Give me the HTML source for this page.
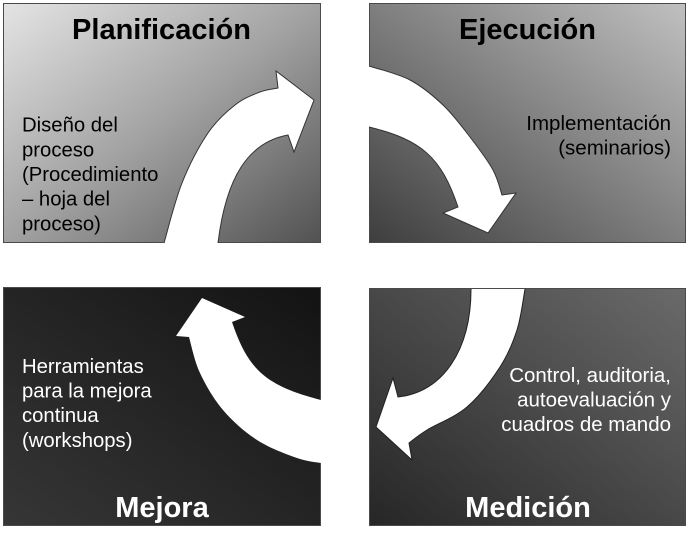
<!DOCTYPE html>
<html>
<head>
<meta charset="utf-8">
<style>
  html, body { margin: 0; padding: 0; background: #ffffff; }
  body { width: 691px; height: 534px; overflow: hidden; }
  svg { display: block; }
  text { font-family: "Liberation Sans", Arial, sans-serif; }
</style>
</head>
<body>
<svg width="691" height="534" viewBox="0 0 691 534" xmlns="http://www.w3.org/2000/svg">
  <defs>
    <linearGradient id="g1" x1="0" y1="0" x2="1" y2="1">
      <stop offset="0" stop-color="#e4e4e4"/>
      <stop offset="0.5" stop-color="#a2a2a2"/>
      <stop offset="1" stop-color="#525252"/>
    </linearGradient>
    <linearGradient id="g2" x1="0" y1="1" x2="1" y2="0">
      <stop offset="0" stop-color="#3e3e3e"/>
      <stop offset="1" stop-color="#c0c0c0"/>
    </linearGradient>
    <linearGradient id="g3" x1="1" y1="0" x2="0" y2="1">
      <stop offset="0" stop-color="#131313"/>
      <stop offset="1" stop-color="#363636"/>
    </linearGradient>
    <linearGradient id="g4" x1="0" y1="1" x2="1" y2="0">
      <stop offset="0" stop-color="#262626"/>
      <stop offset="1" stop-color="#6a6a6a"/>
    </linearGradient>
  </defs>

  <rect x="0" y="0" width="691" height="534" fill="#ffffff"/>

  <!-- Boxes -->
  <rect x="3.5" y="3.5" width="317" height="239" fill="url(#g1)" stroke="#4a4a4a" stroke-width="1"/>
  <rect x="369.5" y="3.5" width="316" height="239" fill="url(#g2)" stroke="#4a4a4a" stroke-width="1"/>
  <rect x="3.5" y="287.5" width="317" height="238" fill="url(#g3)" stroke="#4a4a4a" stroke-width="1"/>
  <rect x="369.5" y="288.5" width="316" height="237" fill="url(#g4)" stroke="#4a4a4a" stroke-width="1"/>

  <!-- TL arrow -->
  <path d="M164,243 C167,233 174.7,201.3 182,183 C189.3,164.7 199.2,146 208,133 C216.8,120 226.3,111.8 235,105 C243.7,98.2 252.8,94.8 260,92 C267.2,89.2 275,88.7 278,88 L276,71 L314,100 L294,152 L288,135 C248.4,142.3 226,177 218,243 Z" fill="#ffffff"/>
  <path d="M164,243 C167,233 174.7,201.3 182,183 C189.3,164.7 199.2,146 208,133 C216.8,120 226.3,111.8 235,105 C243.7,98.2 252.8,94.8 260,92 C267.2,89.2 275,88.7 278,88 L276,71 L314,100 L294,152 L288,135 C248.4,142.3 226,177 218,243" fill="none" stroke="#333333" stroke-width="1"/>

  <!-- TR arrow -->
  <path d="M369,66 C375.8,68.3 397.7,73.5 410,80 C422.3,86.5 433,95.5 443,105 C453,114.5 461.7,126.2 470,137 C478.3,147.8 487.7,160.3 493,170 C498.3,179.7 500.5,190.8 502,195 L516,193 L488,233 L443,213 L458,207 C441.4,157.6 422,139.9 369,127 Z" fill="#ffffff"/>
  <path d="M369,66 C375.8,68.3 397.7,73.5 410,80 C422.3,86.5 433,95.5 443,105 C453,114.5 461.7,126.2 470,137 C478.3,147.8 487.7,160.3 493,170 C498.3,179.7 500.5,190.8 502,195 L516,193 L488,233 L443,213 L458,207 C441.4,157.6 422,139.9 369,127" fill="none" stroke="#333333" stroke-width="1"/>

  <!-- BR arrow -->
  <path d="M525,289 C523.7,295.8 521.2,317 517,330 C512.8,343 508.3,354.2 500,367 C491.7,379.8 479.2,396.5 467,407 C454.8,417.5 436.7,424 427,430 C417.3,436 412,440.8 409,443 L412,460 L376,427 L393,378 L398,397 C442.5,392.5 471,350.4 471,289 Z" fill="#ffffff"/>
  <path d="M525,289 C523.7,295.8 521.2,317 517,330 C512.8,343 508.3,354.2 500,367 C491.7,379.8 479.2,396.5 467,407 C454.8,417.5 436.7,424 427,430 C417.3,436 412,440.8 409,443 L412,460 L376,427 L393,378 L398,397 C442.5,392.5 471,350.4 471,289" fill="none" stroke="#222222" stroke-width="1"/>

  <!-- BL arrow -->
  <path d="M321,463 C317,462.2 307.7,461.8 297,458 C286.3,454.2 269.3,448 257,440 C244.7,432 232.5,421.2 223,410 C213.5,398.8 205.7,385.2 200,373 C194.3,360.8 190.8,343 189,337 L176,336 L202,298 L245,317 L232,322 C248.3,370.3 266.1,385.8 321,400 Z" fill="#ffffff"/>

  <!-- Titles -->
  <text x="161.5" y="39" text-anchor="middle" font-size="29" font-weight="bold" fill="#000000">Planificación</text>
  <text x="527.5" y="39" text-anchor="middle" font-size="29" font-weight="bold" fill="#000000">Ejecución</text>
  <text x="162" y="517" text-anchor="middle" font-size="29" font-weight="bold" fill="#ffffff">Mejora</text>
  <text x="528" y="517" text-anchor="middle" font-size="29" font-weight="bold" fill="#ffffff">Medición</text>

  <!-- TL body -->
  <g font-size="20.3" fill="#000000">
    <text x="22" y="131.7">Diseño del</text>
    <text x="22" y="156.4">proceso</text>
    <text x="22" y="181">(Procedimiento</text>
    <text x="22" y="205.7">– hoja del</text>
    <text x="22" y="230.3">proceso)</text>
  </g>

  <!-- TR body -->
  <g font-size="20.5" fill="#000000" text-anchor="end">
    <text x="671" y="130">Implementación</text>
    <text x="671" y="154.6">(seminarios)</text>
  </g>

  <!-- BL body -->
  <g font-size="20.3" fill="#ffffff">
    <text x="22" y="373">Herramientas</text>
    <text x="22" y="397.6">para la mejora</text>
    <text x="22" y="422.2">continua</text>
    <text x="22" y="446.8">(workshops)</text>
  </g>

  <!-- BR body -->
  <g font-size="20.5" fill="#ffffff" text-anchor="end">
    <text x="671" y="382">Control, auditoria,</text>
    <text x="671" y="406.6">autoevaluación y</text>
    <text x="671" y="431.2">cuadros de mando</text>
  </g>
</svg>
</body>
</html>
